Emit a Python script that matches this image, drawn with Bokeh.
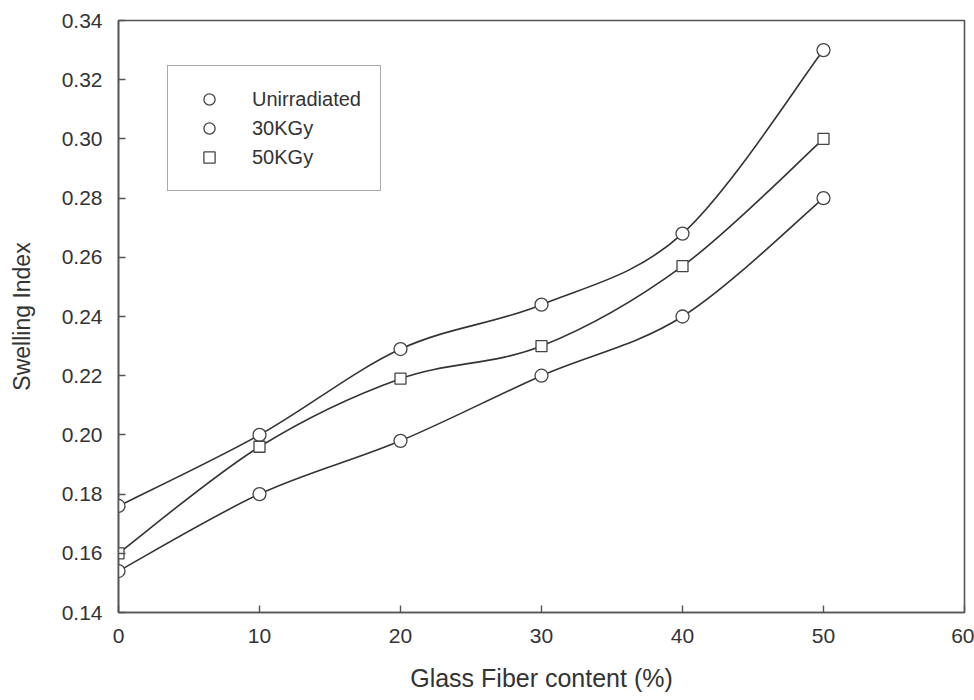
from bokeh.plotting import figure
from bokeh.models import FixedTicker, NumeralTickFormatter, Legend, LegendItem, ColumnDataSource
from bokeh.embed import file_html
from bokeh.resources import INLINE

fiber = [0, 10, 20, 30, 40, 50]
unirradiated = [0.176, 0.200, 0.229, 0.244, 0.268, 0.330]
kgy30 = [0.154, 0.180, 0.198, 0.220, 0.240, 0.280]
kgy50 = [0.160, 0.196, 0.219, 0.230, 0.257, 0.300]
x_ticks = [0, 10, 20, 30, 40, 50, 60]
y_ticks = [0.14, 0.16, 0.18, 0.20, 0.22, 0.24, 0.26, 0.28, 0.30, 0.32, 0.34]

FONT = "Liberation Sans"
TXT = "#333333"
AX = "#555555"

p = figure(width=974, height=700, output_backend="svg", toolbar_location=None,
           x_range=(0, 60), y_range=(0.14, 0.34),
           min_border_left=118, min_border_right=10, min_border_top=20, min_border_bottom=88)
p.grid.visible = False
p.background_fill_color = "white"
p.border_fill_color = "white"
p.outline_line_color = AX
p.outline_line_width = 1.6

for ax in (p.xaxis[0], p.yaxis[0]):
    ax.axis_line_color = AX
    ax.axis_line_width = 1.6
    ax.major_tick_line_color = AX
    ax.major_tick_line_width = 1.4
    ax.major_tick_in = 7
    ax.major_tick_out = 0
    ax.minor_tick_line_color = None
    ax.major_label_text_font = FONT
    ax.major_label_text_font_size = "21px"
    ax.major_label_text_color = TXT
    ax.axis_label_text_font = FONT
    ax.axis_label_text_font_style = "normal"
    ax.axis_label_text_color = TXT

p.xaxis[0].ticker = FixedTicker(ticks=x_ticks)
p.yaxis[0].ticker = FixedTicker(ticks=y_ticks)
p.yaxis[0].formatter = NumeralTickFormatter(format="0.00")
p.xaxis[0].axis_label = "Glass Fiber content (%)"
p.yaxis[0].axis_label = "Swelling Index"
p.xaxis[0].axis_label_text_font_size = "25px"
p.yaxis[0].axis_label_text_font_size = "23px"
p.xaxis[0].major_label_standoff = 16
p.yaxis[0].major_label_standoff = 16
p.xaxis[0].axis_label_standoff = 18
p.yaxis[0].axis_label_standoff = 24


def bezier_source(xs, ys):
    n = len(xs)
    d = dict(x0=[], y0=[], x1=[], y1=[], cx0=[], cy0=[], cx1=[], cy1=[])
    for i in range(n - 1):
        im = max(i - 1, 0)
        ip2 = min(i + 2, n - 1)
        d["x0"].append(xs[i]); d["y0"].append(ys[i])
        d["x1"].append(xs[i + 1]); d["y1"].append(ys[i + 1])
        d["cx0"].append(xs[i] + (xs[i + 1] - xs[im]) / 6.0)
        d["cy0"].append(ys[i] + (ys[i + 1] - ys[im]) / 6.0)
        d["cx1"].append(xs[i + 1] - (xs[ip2] - xs[i]) / 6.0)
        d["cy1"].append(ys[i + 1] - (ys[ip2] - ys[i]) / 6.0)
    return ColumnDataSource(d)


series = [("Unirradiated", unirradiated, "circle", 13),
          ("30KGy", kgy30, "circle", 13),
          ("50KGy", kgy50, "square", 11)]
items = []
for name, ys, marker, size in series:
    p.bezier(x0="x0", y0="y0", x1="x1", y1="y1", cx0="cx0", cy0="cy0", cx1="cx1", cy1="cy1",
             source=bezier_source(fiber, ys), line_color="#333333", line_width=1.6)
    r = p.scatter(fiber, ys, marker=marker, size=size, fill_color="white",
                  line_color="#444444", line_width=1.3)
    items.append(LegendItem(label=name, renderers=[r]))

legend = Legend(items=items, location=(49, 421))
legend.label_text_font = FONT
legend.label_text_font_size = "20px"
legend.label_text_color = TXT
legend.border_line_color = AX
legend.border_line_width = 1.6
legend.padding = 19
legend.glyph_width = 44
legend.glyph_height = 28
legend.label_height = 28
legend.label_standoff = 21
legend.spacing = 1
legend.margin = 0
p.add_layout(legend, "center")

open("out.html", "w").write(file_html(p, INLINE))
